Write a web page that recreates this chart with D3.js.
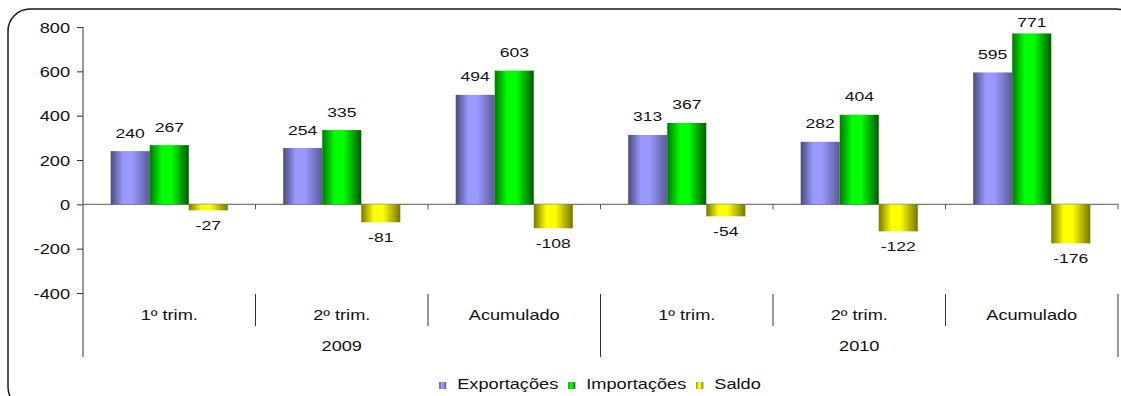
<!DOCTYPE html>
<html>
<head>
<meta charset="utf-8">
<script src="https://cdn.jsdelivr.net/npm/d3@7"></script>
<style>
  html, body { margin: 0; padding: 0; background: #fff; }
  svg { display: block; font-family: "Liberation Sans", Arial, sans-serif; }
</style>
</head>
<body>
<svg id="chart" width="1121" height="396"></svg>
<script>
// Trade balance by quarter (values in millions)
const periods = ["1º trim.", "2º trim.", "Acumulado", "1º trim.", "2º trim.", "Acumulado"];
const years = ["2009", "2010"];
const seriesNames = ["Exportações", "Importações", "Saldo"];
const exportacoes = [240, 254, 494, 313, 282, 595];
const importacoes = [267, 335, 603, 367, 404, 771];
const saldo = [-27, -81, -108, -54, -122, -176];
const yTicks = [-400, -200, 0, 200, 400, 600, 800];

(function () {
const seriesValues = [exportacoes, importacoes, saldo];
const colors = {
  "Exportações": { dark: "#4a4a78", light: "#9999ff", edge: "#5a5a96" },
  "Importações": { dark: "#007800", light: "#00ff00", edge: "#005a00" },
  "Saldo":       { dark: "#787800", light: "#ffff00", edge: "#767600" }
};

const svg = d3.select("#chart");
const SX = 1.3; // horizontal text stretch
const FONT = "'Liberation Sans', Arial, sans-serif";

// frame
svg.append("rect")
  .attr("x", 8).attr("y", 9).attr("width", 1130).attr("height", 400)
  .attr("rx", 22).attr("ry", 22)
  .attr("fill", "none").attr("stroke", "#1a1a1a").attr("stroke-width", 1.5);

// gradients
const defs = svg.append("defs");
seriesNames.forEach((name, i) => {
  const c = colors[name];
  const g = defs.append("linearGradient").attr("id", "grad" + i)
    .attr("x1", "0%").attr("x2", "100%").attr("y1", "0%").attr("y2", "0%");
  g.append("stop").attr("offset", "0%").attr("stop-color", c.dark);
  g.append("stop").attr("offset", "32%").attr("stop-color", c.light);
  g.append("stop").attr("offset", "55%").attr("stop-color", c.light);
  g.append("stop").attr("offset", "100%").attr("stop-color", c.edge);
});

const plotLeft = 83, plotRight = 1118, plotTop = 27, plotBottom = 293;
const y = d3.scaleLinear().domain([-400, 800]).range([plotBottom, plotTop]);
const x0 = d3.scaleBand().domain(d3.range(periods.length)).range([plotLeft, plotRight]).paddingInner(0).paddingOuter(0);
const x1 = d3.scaleBand().domain(seriesNames).range([0, x0.bandwidth()]).paddingInner(0).paddingOuter(0.71);

// y axis
const yAxis = d3.axisLeft(y).tickValues(yTicks).tickSize(6).tickSizeOuter(0).tickFormat(d => String(d));
const gy = svg.append("g").attr("transform", `translate(${plotLeft},0)`).call(yAxis);
gy.select(".domain").remove();
gy.selectAll(".tick line").attr("stroke", "#333");
gy.selectAll(".tick text")
  .attr("x", -10).attr("dy", "0.36em")
  .attr("font-size", 14).attr("fill", "#111")
  .attr("font-family", FONT)
  .attr("transform", `scale(${SX},1)`);

// vertical axis line extending through the category rows
svg.append("line").attr("x1", plotLeft).attr("x2", plotLeft).attr("y1", plotTop).attr("y2", 357)
  .attr("stroke", "#333").attr("stroke-width", 1);

// zero line with small ticks at group boundaries
svg.append("line").attr("x1", plotLeft).attr("x2", plotRight).attr("y1", y(0)).attr("y2", y(0))
  .attr("stroke", "#777").attr("stroke-width", 1.2);
d3.range(1, periods.length + 1).forEach(i => {
  const xx = plotLeft + i * x0.step();
  svg.append("line").attr("x1", xx).attr("x2", xx).attr("y1", y(0)).attr("y2", y(0) + 5)
    .attr("stroke", "#555");
});

// bars
seriesNames.forEach((name, si) => {
  const vals = seriesValues[si];
  svg.append("g").selectAll("rect").data(vals).join("rect")
    .attr("x", (d, i) => x0(i) + x1(name))
    .attr("y", d => y(Math.max(0, d)))
    .attr("width", x1.bandwidth())
    .attr("height", d => Math.abs(y(d) - y(0)))
    .attr("fill", `url(#grad${si})`);
  // value labels (kept inside the plot area at the top)
  svg.append("g").selectAll("g").data(vals).join("g")
    .attr("transform", (d, i) => {
      const cx = x0(i) + x1(name) + x1.bandwidth() / 2;
      const cy = d >= 0 ? Math.max(y(d) - 13.5, plotTop) : y(d) + 20;
      return `translate(${cx},${cy}) scale(${SX},1)`;
    })
    .append("text")
    .attr("text-anchor", "middle")
    .attr("font-family", FONT)
    .attr("font-size", 13.5).attr("fill", "#111")
    .text(d => d);
});

// category rows
const catG = svg.append("g").attr("font-family", FONT);
periods.forEach((p, i) => {
  catG.append("g")
    .attr("transform", `translate(${x0(i) + x0.bandwidth() / 2},320) scale(${SX},1)`)
    .append("text").attr("text-anchor", "middle").attr("font-size", 14).attr("fill", "#111").text(p);
});
// separators between periods
d3.range(1, periods.length + 1).forEach(i => {
  const xx = plotLeft + i * x0.step();
  const yearEdge = i % 3 === 0;
  catG.append("line").attr("x1", xx).attr("x2", xx)
    .attr("y1", 294).attr("y2", yearEdge ? 357 : 326)
    .attr("stroke", "#333").attr("stroke-width", 1);
});
years.forEach((yr, j) => {
  const cx = plotLeft + (j * 3 + 1.5) * x0.step();
  catG.append("g")
    .attr("transform", `translate(${cx},351) scale(${SX},1)`)
    .append("text").attr("text-anchor", "middle").attr("font-size", 14).attr("fill", "#111").text(yr);
});

// legend
const legend = svg.append("g").attr("font-family", FONT);
let cursor = 0;
seriesNames.forEach((name, i) => {
  const item = legend.append("g");
  item.append("rect").attr("x", cursor).attr("y", -7).attr("width", 7).attr("height", 7)
    .attr("fill", `url(#grad${i})`);
  const tg = item.append("g").attr("transform", `translate(${cursor + 18},0) scale(${SX},1)`);
  const t = tg.append("text").attr("font-size", 14).attr("fill", "#111").text(name);
  const w = t.node().getComputedTextLength() * SX;
  cursor += 18 + w + 10;
});
const totalW = cursor - 10;
legend.attr("transform", `translate(${600 - totalW / 2},389)`);
})();
</script>
</body>
</html>
